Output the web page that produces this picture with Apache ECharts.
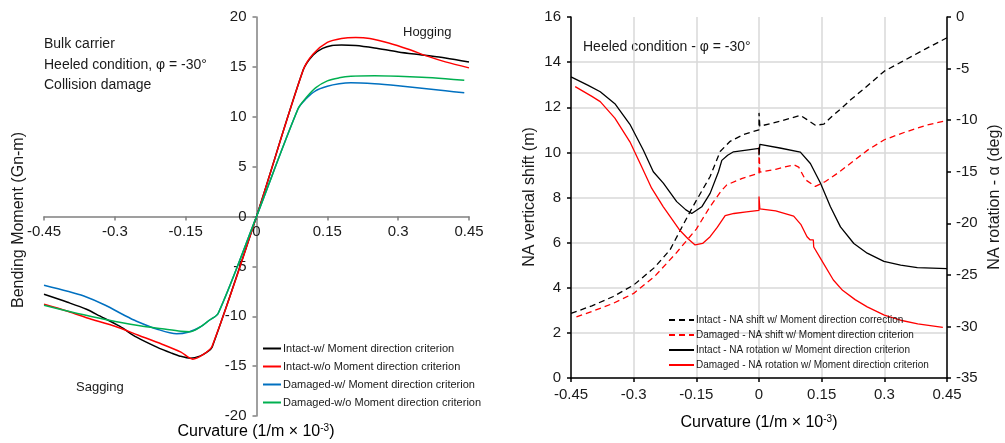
<!DOCTYPE html>
<html><head><meta charset="utf-8">
<script src="https://cdn.jsdelivr.net/npm/echarts@6/dist/echarts.min.js"></script>
<style>html,body{margin:0;padding:0;background:#fff}#c{width:1005px;height:443px}</style>
</head><body><div id="c"></div>
<script>
// ---------- DATA ----------
const curvatureTicks = [-0.45, -0.3, -0.15, 0, 0.15, 0.3, 0.45];
const momentTicks = [-20, -15, -10, -5, 0, 5, 10, 15, 20];
const shiftTicks = [0, 2, 4, 6, 8, 10, 12, 14, 16];
const rotationTicks = [-35, -30, -25, -20, -15, -10, -5, 0];

const leftNames = [
  'Intact-w/ Moment direction criterion',
  'Intact-w/o Moment direction criterion',
  'Damaged-w/ Moment direction criterion',
  'Damaged-w/o Moment direction criterion'
];
const rightNames = [
  'Intact - NA shift w/ Moment direction correction',
  'Damaged - NA shift w/ Moment direction criterion',
  'Intact - NA rotation w/ Moment direction criterion',
  'Damaged - NA rotation w/ Moment direction criterion'
];

// Left chart: [curvature, bending moment]
const intactW = [[-0.45,-7.8],[-0.40,-8.6],[-0.36,-9.3],[-0.332,-9.97],[-0.29,-11.0],[-0.254,-12.1],[-0.211,-13.1],[-0.18,-13.7],[-0.162,-14.0],[-0.14,-14.2],[-0.12,-14.0],[-0.105,-13.6],[-0.094,-13.1],[0,0],[0.099,14.7],[0.12,16.2],[0.14,16.85],[0.16,17.15],[0.18,17.2],[0.21,17.15],[0.25,16.9],[0.30,16.5],[0.35,16.2],[0.40,15.9],[0.45,15.5]];
const intactWo = [[-0.45,-8.8],[-0.40,-9.5],[-0.35,-10.3],[-0.30,-11.0],[-0.25,-11.9],[-0.20,-12.8],[-0.16,-13.6],[-0.135,-14.3],[-0.115,-13.9],[-0.094,-13.0],[0,0],[0.099,14.7],[0.12,16.3],[0.15,17.45],[0.18,17.85],[0.21,17.95],[0.24,17.85],[0.28,17.4],[0.32,16.8],[0.36,16.1],[0.40,15.5],[0.45,14.9]];
const damagedW = [[-0.45,-6.9],[-0.40,-7.5],[-0.367,-7.95],[-0.32,-8.9],[-0.28,-9.9],[-0.254,-10.5],[-0.21,-11.3],[-0.169,-11.75],[-0.145,-11.6],[-0.12,-11.1],[-0.10,-10.4],[-0.081,-9.7],[0,0],[0.088,10.8],[0.105,11.8],[0.125,12.6],[0.15,13.05],[0.175,13.3],[0.2,13.4],[0.25,13.3],[0.3,13.1],[0.35,12.85],[0.4,12.6],[0.44,12.4]];
const damagedWo = [[-0.45,-8.9],[-0.39,-9.6],[-0.332,-10.2],[-0.29,-10.6],[-0.247,-10.95],[-0.2,-11.25],[-0.16,-11.5],[-0.141,-11.55],[-0.12,-11.1],[-0.10,-10.4],[-0.081,-9.7],[0,0],[0.088,10.8],[0.105,11.9],[0.125,12.9],[0.15,13.6],[0.175,13.9],[0.2,14.05],[0.25,14.1],[0.3,14.05],[0.35,13.95],[0.4,13.8],[0.44,13.65]];

// Right chart: [curvature, NA shift (m)]
const intactShift = [[-0.45,2.86],[-0.40,3.2],[-0.35,3.6],[-0.30,4.12],[-0.25,4.9],[-0.213,5.68],[-0.169,7.23],[-0.149,7.9],[-0.117,8.93],[-0.093,10.04],[-0.069,10.49],[-0.037,10.79],[0,11.0],[0,11.75],[0.002,11.16],[0.051,11.38],[0.099,11.64],[0.115,11.45],[0.135,11.2],[0.155,11.25],[0.175,11.6],[0.2,12.0],[0.22,12.34],[0.25,12.8],[0.3,13.6],[0.35,14.1],[0.4,14.6],[0.45,15.08]];
const damagedShift = [[-0.437,2.71],[-0.40,2.95],[-0.35,3.3],[-0.30,3.75],[-0.25,4.5],[-0.20,5.5],[-0.15,6.6],[-0.117,7.6],[-0.09,8.3],[-0.077,8.56],[-0.04,8.85],[0,9.08],[0,10.3],[0.002,9.12],[0.04,9.25],[0.083,9.45],[0.095,9.35],[0.111,8.79],[0.135,8.49],[0.159,8.71],[0.19,9.1],[0.22,9.53],[0.26,10.1],[0.3,10.56],[0.35,10.9],[0.4,11.2],[0.45,11.42]];
// Right chart: [curvature, NA rotation (deg)]
const intactRot = [[-0.45,-5.8],[-0.41,-6.6],[-0.38,-7.25],[-0.345,-8.4],[-0.309,-10.4],[-0.277,-12.9],[-0.253,-15.0],[-0.229,-16.1],[-0.197,-17.9],[-0.175,-18.7],[-0.161,-19.05],[-0.137,-18.4],[-0.117,-17.1],[-0.097,-15.0],[-0.089,-13.9],[-0.075,-13.4],[-0.061,-13.07],[-0.03,-12.9],[0,-12.74],[0,-13.4],[0.002,-12.35],[0.05,-12.7],[0.099,-13.1],[0.123,-14.2],[0.147,-16.1],[0.171,-18.4],[0.195,-20.35],[0.227,-21.96],[0.259,-22.9],[0.299,-23.7],[0.339,-24.06],[0.379,-24.3],[0.45,-24.4]];
const damagedRot = [[-0.44,-6.75],[-0.40,-7.7],[-0.38,-8.2],[-0.345,-9.8],[-0.309,-12.1],[-0.28,-14.6],[-0.257,-16.6],[-0.229,-18.4],[-0.189,-20.7],[-0.17,-21.5],[-0.153,-22.1],[-0.135,-21.95],[-0.117,-21.3],[-0.1,-20.4],[-0.081,-19.25],[-0.06,-19.05],[-0.03,-18.9],[0,-18.75],[0,-17.4],[0.002,-18.6],[0.04,-18.8],[0.083,-19.3],[0.1,-20.1],[0.115,-21.3],[0.122,-21.6],[0.13,-21.6],[0.131,-22.3],[0.15,-23.6],[0.178,-25.5],[0.2,-26.5],[0.23,-27.4],[0.259,-28.1],[0.3,-28.9],[0.339,-29.4],[0.38,-29.75],[0.44,-30.1]];

// ---------- CHART ----------
const FONT = '"Liberation Sans", Arial, sans-serif';
const TXT = '#1a1a1a';
const chart = echarts.init(document.getElementById('c'), null, {renderer: 'canvas'});

function step(a) { return a[1] - a[0]; }
function fmt(v) { return String(Number(v.toFixed(2))); }

const G1 = {left: 44, top: 17, width: 425, height: 399};
const G2 = {left: 571, top: 17, width: 376, height: 361};
const cMin = curvatureTicks[0], cMax = curvatureTicks[curvatureTicks.length - 1];
const mMin = momentTicks[0], mMax = momentTicks[momentTicks.length - 1];
// offsets that put the left chart's axes through the origin
const yOff = -G1.width * (0 - cMin) / (cMax - cMin);
const xOff = -G1.height * (0 - mMin) / (mMax - mMin);

const curvLabel = '{n|Curvature (1/m × 10}{s|-3}{n|)}';
const curvRich = {n: {fontSize: 16, fontFamily: FONT, color: TXT}, s: {fontSize: 10, fontFamily: FONT, color: TXT, padding: [0, 0, 8, 0]}};

function txt(x, y, text, size, opts) {
  return Object.assign({
    type: 'text', x: x, y: y, silent: true,
    style: Object.assign({text: text, font: size + 'px ' + FONT, fill: TXT, textAlign: 'left', textVerticalAlign: 'middle'}, (opts && opts.style) || {})
  }, (opts && opts.el) || {});
}

const option = {
  animation: false,
  backgroundColor: '#fff',
  textStyle: {fontFamily: FONT},
  grid: [G1, G2],
  xAxis: [
    {gridIndex: 0, type: 'value', min: cMin, max: cMax, interval: step(curvatureTicks), position: 'bottom', offset: xOff,
     axisLine: {onZero: false, lineStyle: {color: '#808080', width: 1.5}},
     axisTick: {show: true, length: 4, lineStyle: {color: '#808080', width: 1.5}},
     axisLabel: {fontSize: 15, color: TXT, margin: 8, fontFamily: FONT, formatter: fmt},
     splitLine: {show: false}},
    {gridIndex: 1, type: 'value', min: cMin, max: cMax, interval: step(curvatureTicks),
     axisLine: {onZero: false, lineStyle: {color: '#000', width: 1.5}},
     axisTick: {show: true, length: 4, lineStyle: {color: '#000', width: 1.5}},
     axisLabel: {fontSize: 15, color: TXT, margin: 9, fontFamily: FONT, formatter: fmt},
     splitLine: {show: true, lineStyle: {color: '#d9d9d9', width: 1.5}}}
  ],
  yAxis: [
    {gridIndex: 0, type: 'value', min: mMin, max: mMax, interval: step(momentTicks), position: 'left', offset: yOff,
     axisLine: {show: true, onZero: false, lineStyle: {color: '#808080', width: 1.5}},
     axisTick: {show: true, length: 4, lineStyle: {color: '#808080', width: 1.5}},
     axisLabel: {fontSize: 15, color: TXT, margin: 10, fontFamily: FONT},
     splitLine: {show: false}},
    {gridIndex: 1, type: 'value', position: 'left', min: shiftTicks[0], max: shiftTicks[shiftTicks.length - 1], interval: step(shiftTicks),
     axisLine: {show: true, onZero: false, lineStyle: {color: '#000', width: 1.5}},
     axisTick: {show: true, length: 4, lineStyle: {color: '#000', width: 1.5}},
     axisLabel: {fontSize: 15, color: TXT, margin: 10, fontFamily: FONT},
     splitLine: {show: true, showMaxLine: false, lineStyle: {color: '#d9d9d9', width: 1.5}}},
    {gridIndex: 1, type: 'value', position: 'right', min: rotationTicks[0], max: rotationTicks[rotationTicks.length - 1], interval: step(rotationTicks),
     axisLine: {show: true, onZero: false, lineStyle: {color: '#000', width: 1.5}},
     axisTick: {show: true, length: 4, lineStyle: {color: '#000', width: 1.5}},
     axisLabel: {fontSize: 15, color: TXT, margin: 9, fontFamily: FONT},
     splitLine: {show: false}}
  ],
  legend: [
    {data: leftNames, orient: 'vertical', left: 262, top: 343, padding: 0, itemWidth: 18, itemHeight: 10, itemGap: 7,
     textStyle: {fontSize: 11, color: TXT, fontFamily: FONT, padding: [0, 0, 0, -3]}, itemStyle: {opacity: 0}, selectedMode: false},
    {data: rightNames, orient: 'vertical', left: 668, top: 315, padding: 0, itemWidth: 25, itemHeight: 10, itemGap: 5,
     textStyle: {fontSize: 10, color: TXT, fontFamily: FONT, padding: [0, 0, 0, -3]}, itemStyle: {opacity: 0}, selectedMode: false}
  ],
  graphic: [
    txt(44, 44, 'Bulk carrier', 14),
    txt(44, 65, 'Heeled condition, φ = -30°', 14),
    txt(44, 85, 'Collision damage', 14),
    txt(403, 32, 'Hogging', 13),
    txt(76, 387, 'Sagging', 13),
    txt(583, 47, 'Heeled condition - φ = -30°', 14),
    txt(19, 220, 'Bending Moment (Gn-m)', 16, {style: {textAlign: 'center'}, el: {rotation: Math.PI / 2}}),
    txt(530, 197, 'NA vertical shift (m)', 16, {style: {textAlign: 'center'}, el: {rotation: Math.PI / 2}}),
    txt(995, 197, 'NA rotation - α (deg)', 16, {style: {textAlign: 'center'}, el: {rotation: Math.PI / 2}}),
    {type: 'text', x: 256, y: 432, silent: true, style: {text: curvLabel, rich: curvRich, textAlign: 'center', textVerticalAlign: 'middle', font: '16px ' + FONT}},
    {type: 'text', x: 759, y: 423, silent: true, style: {text: curvLabel, rich: curvRich, textAlign: 'center', textVerticalAlign: 'middle', font: '16px ' + FONT}}
  ],
  series: [
    {name: leftNames[0], type: 'line', xAxisIndex: 0, yAxisIndex: 0, data: intactW, symbol: 'none', smooth: 0.3, lineStyle: {color: '#000000', width: 1.5}, itemStyle: {color: '#000000'}},
    {name: leftNames[1], type: 'line', xAxisIndex: 0, yAxisIndex: 0, data: intactWo, symbol: 'none', smooth: 0.3, lineStyle: {color: '#ff0000', width: 1.5}, itemStyle: {color: '#ff0000'}},
    {name: leftNames[2], type: 'line', xAxisIndex: 0, yAxisIndex: 0, data: damagedW, symbol: 'none', smooth: 0.3, lineStyle: {color: '#0070c0', width: 1.5}, itemStyle: {color: '#0070c0'}},
    {name: leftNames[3], type: 'line', xAxisIndex: 0, yAxisIndex: 0, data: damagedWo, symbol: 'none', smooth: 0.3, lineStyle: {color: '#00b050', width: 1.5}, itemStyle: {color: '#00b050'}},
    {name: rightNames[0], type: 'line', xAxisIndex: 1, yAxisIndex: 1, data: intactShift, symbol: 'none', lineStyle: {color: '#000000', width: 1.3, type: [6, 4]}, itemStyle: {color: '#000000'}},
    {name: rightNames[1], type: 'line', xAxisIndex: 1, yAxisIndex: 1, data: damagedShift, symbol: 'none', lineStyle: {color: '#ff0000', width: 1.3, type: [6, 4]}, itemStyle: {color: '#ff0000'}},
    {name: rightNames[2], type: 'line', xAxisIndex: 1, yAxisIndex: 2, data: intactRot, symbol: 'none', lineStyle: {color: '#000000', width: 1.3}, itemStyle: {color: '#000000'}},
    {name: rightNames[3], type: 'line', xAxisIndex: 1, yAxisIndex: 2, data: damagedRot, symbol: 'none', lineStyle: {color: '#ff0000', width: 1.3}, itemStyle: {color: '#ff0000'}}
  ]
};
chart.setOption(option);
</script></body></html>
